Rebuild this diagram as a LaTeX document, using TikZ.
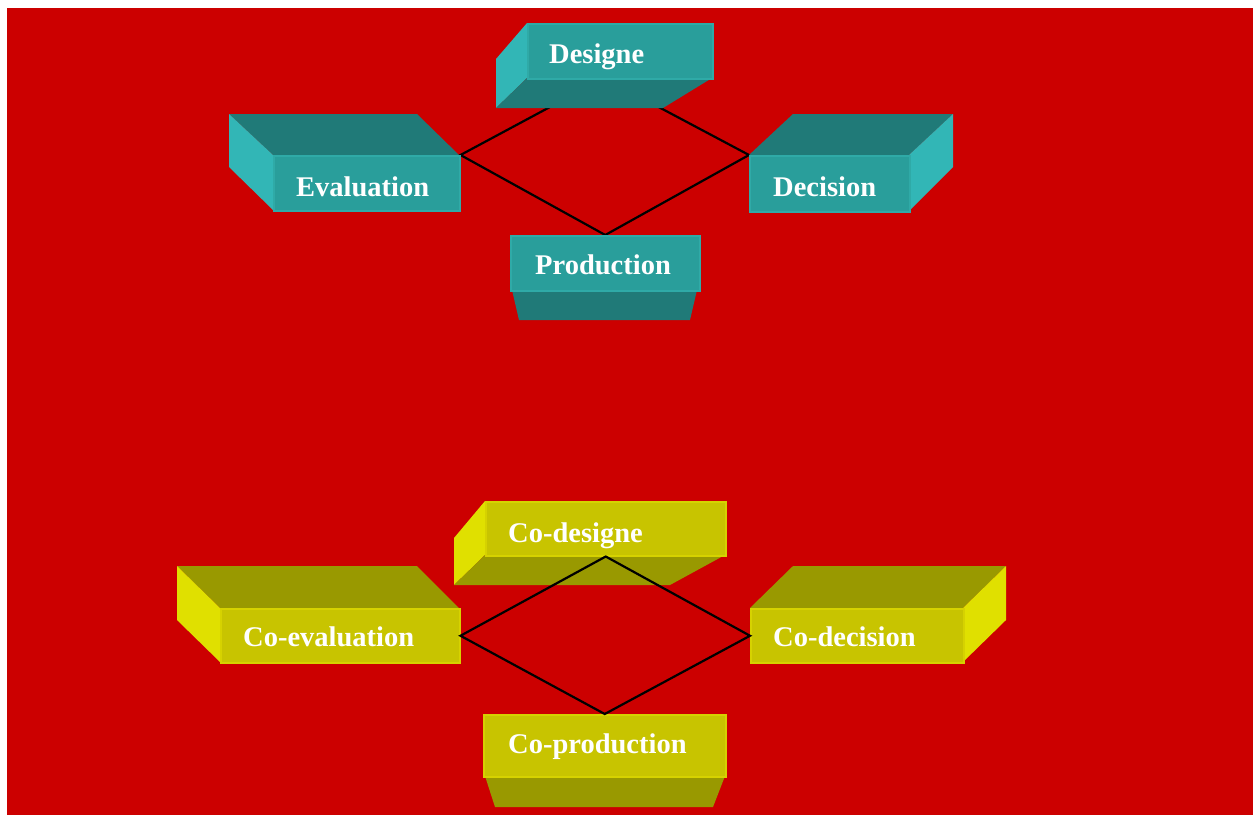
\documentclass[tikz,border=0pt]{standalone}
\usepackage{fontspec}
\setmainfont{Liberation Serif}
\definecolor{bgred}{RGB}{204,0,0}
\definecolor{tfront}{RGB}{41,158,155}
\definecolor{tdark}{RGB}{32,122,120}
\definecolor{tside}{RGB}{50,182,182}
\definecolor{tedge}{RGB}{47,170,167}
\definecolor{yfront}{RGB}{200,196,0}
\definecolor{ydark}{RGB}{153,153,0}
\definecolor{yside}{RGB}{224,224,0}
\definecolor{yedge}{RGB}{214,210,0}
\pgfdeclarelayer{bglayer}
\pgfdeclarelayer{linelayer}
\pgfsetlayers{bglayer,linelayer,main}
\begin{document}
\begin{tikzpicture}[x=1pt,y=-1pt,
  tface/.style={fill=tfront,draw=tedge,line width=1.5pt,inner sep=0pt,anchor=north west},
  yface/.style={fill=yfront,draw=yedge,line width=1.5pt,inner sep=0pt,anchor=north west},
  lbl/.style={text=white,font=\fontsize{28.5}{30}\selectfont\bfseries,anchor=base west,inner sep=0pt},
  link/.style={line width=2.2pt,black,line join=miter}]
\useasboundingbox (0,0) rectangle (1253,815);
\begin{pgfonlayer}{bglayer}
\fill[bgred] (7,8) rectangle (1253,815);
\end{pgfonlayer}

% ---------- top set (teal) ----------
% Designe
\fill[tside] (527,23) -- (496,59) -- (496,108) -- (527,78) -- cycle;
\fill[tdark] (496,108) -- (663,108) -- (712,78) -- (527,78) -- cycle;
\node[tface,minimum width=185pt,minimum height=55pt] (designe) at (527,23) {};
\node[lbl] (tdesigne) at (549,63) {Designe};
\coordinate (dtop) at (604,78);
% Evaluation
\fill[tdark] (229,114) -- (417,114) -- (459,155) -- (273,155) -- cycle;
\fill[tside] (229,114) -- (273,155) -- (273,210) -- (229,167) -- cycle;
\node[tface,minimum width=186pt,minimum height=55pt] (evaluation) at (273,155) {};
\node[lbl] (tevaluation) at (296,196) {Evaluation};
% Decision
\fill[tdark] (749,155) -- (793,114) -- (953,114) -- (909,155) -- cycle;
\fill[tside] (909,155) -- (953,114) -- (953,167) -- (909,211) -- cycle;
\node[tface,minimum width=160pt,minimum height=56pt] (decision) at (749,155) {};
\node[lbl] (tdecision) at (773,196) {Decision};
% Production
\fill[tdark] (512,290) -- (697,290) -- (690,320) -- (519,320) -- cycle;
\node[tface,minimum width=189pt,minimum height=55pt] (production) at (510,235) {};
\node[lbl] (tproduction) at (535,274) {Production};

\begin{pgfonlayer}{linelayer}
\draw[link] (evaluation.north east) -- (dtop) -- (decision.north west)
  -- (production.north) -- cycle;
\end{pgfonlayer}

% ---------- bottom set (yellow) ----------
% Co-designe
\fill[yside] (485,501) -- (454,538) -- (454,585) -- (485,555) -- cycle;
\fill[ydark] (454,585) -- (670,585) -- (725,555) -- (485,555) -- cycle;
\node[yface,minimum width=240pt,minimum height=54pt] (codesigne) at (485,501) {};
\node[lbl] (tcodesigne) at (508,542) {Co-designe};
% Co-evaluation
\fill[ydark] (177,566) -- (417,566) -- (459,608) -- (220,608) -- cycle;
\fill[yside] (177,566) -- (220,608) -- (220,662) -- (177,620) -- cycle;
\node[yface,minimum width=239pt,minimum height=54pt] (coevaluation) at (220,608) {};
\node[lbl] (tcoevaluation) at (243,646) {Co-evaluation};
% Co-decision
\fill[ydark] (750,608) -- (793,566) -- (1006,566) -- (963,608) -- cycle;
\fill[yside] (963,608) -- (1006,566) -- (1006,620) -- (963,662) -- cycle;
\node[yface,minimum width=213pt,minimum height=54pt] (codecision) at (750,608) {};
\node[lbl] (tcodecision) at (773,646) {Co-decision};
% Co-production
\fill[ydark] (485,776) -- (725,776) -- (713,807) -- (495,807) -- cycle;
\node[yface,minimum width=242pt,minimum height=62pt] (coproduction) at (483,714) {};
\node[lbl] (tcoproduction) at (508,753) {Co-production};

\draw[link] (coevaluation.east) -- (codesigne.south) -- (codecision.west)
  -- (coproduction.north) -- cycle;
\end{tikzpicture}
\end{document}
